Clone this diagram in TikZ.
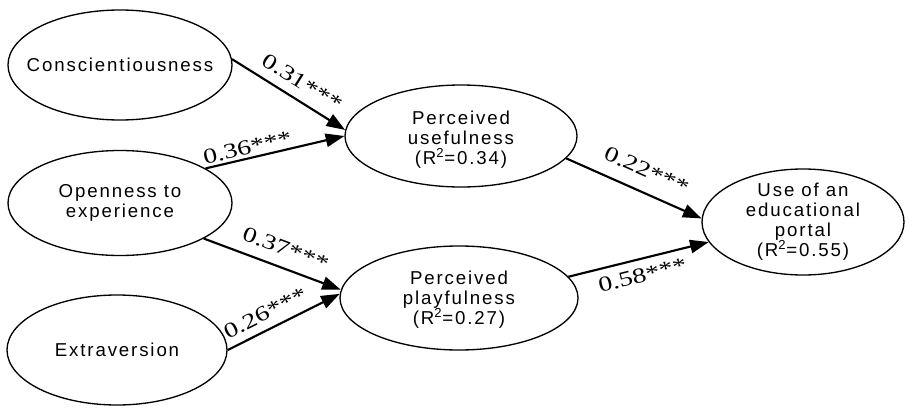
\documentclass[tikz,border=0pt]{standalone}
\usepackage{fontspec}
\setmainfont{Liberation Sans}
\newfontfamily\nodefont[LetterSpace=10]{Liberation Sans}
\newfontfamily\coeffont[FakeStretch=1.3]{Liberation Serif}
\usetikzlibrary{shapes.geometric,arrows.meta}

\tikzset{
  construct/.style={ellipse, draw, line width=1pt, inner sep=0pt},
  ctext/.style={inner sep=0pt, align=center,
    font=\nodefont\fontsize{14}{15}\selectfont},
  effect/.style={line width=1.6pt, -{Triangle[length=14pt,width=10pt]}},
  coef/.style={font=\coeffont\fontsize{16}{16}\selectfont, sloped, inner sep=2pt},
}

\begin{document}
\begin{tikzpicture}[x=0.75pt,y=-0.75pt]
  \useasboundingbox (0,0) rectangle (909,410);

  % personality traits
  \node[construct, minimum width=168pt, minimum height=82.5pt] (C) at (120,65) {};
  \node[ctext] (Ct) at (C.center) {Conscientiousness};
  \node[construct, minimum width=168pt, minimum height=78.75pt] (O) at (120,203) {};
  \node[ctext] (Ot) at (O.center) {Openness to\\experience};
  \node[construct, minimum width=165pt, minimum height=82.5pt] (E) at (117,350) {};
  \node[ctext] (Et) at (E.center) {Extraversion};

  % mediators
  \node[construct, minimum width=174pt, minimum height=76.5pt] (PU) at (461,136) {};
  \node[ctext] (PUt) at ([yshift=-3pt]PU.center) {Perceived\\usefulness\\(R\textsuperscript{2}=0.34)};
  \node[construct, minimum width=178.5pt, minimum height=78pt] (PP) at (459,298) {};
  \node[ctext] (PPt) at ([yshift=-1pt]PP.center) {Perceived\\playfulness\\(R\textsuperscript{2}=0.27)};

  % outcome
  \node[construct, minimum width=151.5pt, minimum height=79.5pt] (U) at (803,222) {};
  \node[ctext] (Ut) at (U.center) {Use of an\\educational\\portal\\(R\textsuperscript{2}=0.55)};

  % path coefficients
  \draw[effect] (C.3)   -- node[coef, above=5pt, pos=0.54] {0.31***} (PU.177);
  \draw[effect] (O.22)  -- node[coef, above=0pt, pos=0.32] {0.36***} (PU.180);
  \draw[effect] (O.-23) -- node[coef, above=6pt, pos=0.55] {0.37***} (PP.176);
  \draw[effect] (E.east) -- node[coef, above=4pt, pos=0.4] {0.26***} (PP.178);
  \draw[effect] (PU.-12) -- node[coef, above=8pt, pos=0.53] {0.22***} (U.178);
  \draw[effect] (PP.11) -- node[coef, below=4pt, pos=0.5] {0.58***} (U.192);
\end{tikzpicture}
\end{document}
